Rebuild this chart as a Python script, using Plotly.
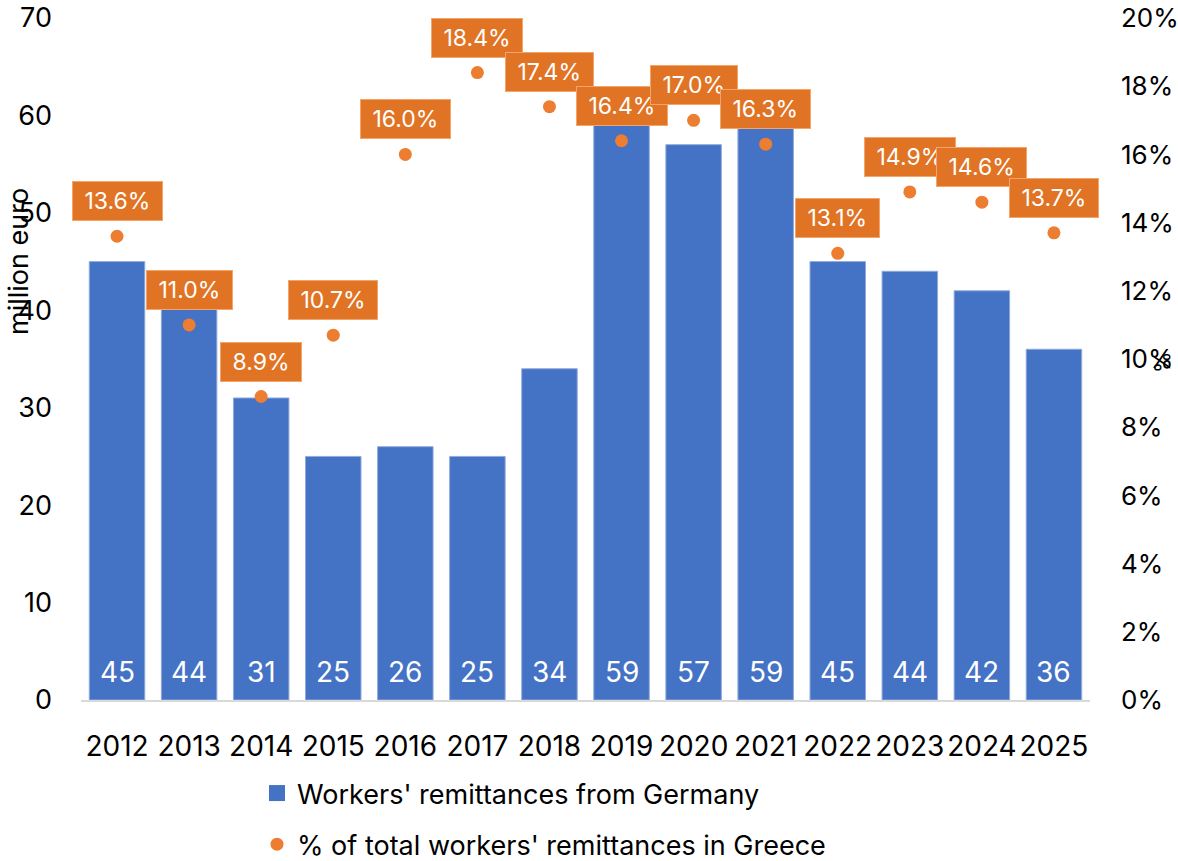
import plotly.graph_objects as go

# Annual data
years = ["2012", "2013", "2014", "2015", "2016", "2017", "2018",
         "2019", "2020", "2021", "2022", "2023", "2024", "2025"]
remittances_germany = [45, 44, 31, 25, 26, 25, 34, 59, 57, 59, 45, 44, 42, 36]  # million euro
share_of_total = [13.6, 11.0, 8.9, 10.7, 16.0, 18.4, 17.4,
                  16.4, 17.0, 16.3, 13.1, 14.9, 14.6, 13.7]  # percent

left_ticks = [0, 10, 20, 30, 40, 50, 60, 70]
right_ticks = [0, 2, 4, 6, 8, 10, 12, 14, 16, 18, 20]

bar_name = "Workers' remittances from Germany"
share_name = "% of total workers' remittances in Greece"

FONT = "Inter"
BLUE = "#4472C4"
ORANGE = "#ED7D31"
BOX = "#E07324"

W, H = 1178, 861
L, R, T, B = 81, 88, 18, 161
pw, ph = W - L - R, H - T - B


def px_x(x):
    return (x - L) / pw


def px_y(y):
    return (H - B - y) / ph


fig = go.Figure()

fig.add_trace(go.Bar(
    x=years, y=remittances_germany,
    name=bar_name,
    marker=dict(color=BLUE, line=dict(color="#8FAADC", width=1)),
    yaxis="y", showlegend=False,
))

share_frac = [v / 100 for v in share_of_total]
fig.add_trace(go.Scatter(
    x=years, y=share_frac,
    name=share_name,
    mode="markers",
    marker=dict(color=ORANGE, size=13),
    yaxis="y2", legendgroup="b", legendrank=2,
))

# legend key for the bars: a larger square swatch
fig.add_trace(go.Scatter(
    x=[None], y=[None], name=bar_name, mode="markers",
    marker=dict(color=BLUE, symbol="square", size=20),
    legendgroup="a", legendrank=1, hoverinfo="skip",
))

annotations = []
# value labels at the foot of each bar (category index positions)
for i, v in enumerate(remittances_germany):
    annotations.append(dict(
        x=i, y=0, xref="x", yref="y", yshift=28,
        text=f"{v:.0f}", showarrow=False,
        font=dict(family=FONT, size=28, color="white"),
    ))
# boxed percentage labels above each marker
for i, v in enumerate(share_frac):
    annotations.append(dict(
        x=i, y=v, xref="x", yref="y2", yshift=35,
        text=f"&nbsp;{v * 100:.1f}%&nbsp;", showarrow=False,
        font=dict(family=FONT, size=23, color="white"),
        bgcolor=BOX, bordercolor="#F3A56C", borderwidth=1, borderpad=5,
    ))
# axis titles
annotations.append(dict(
    x=px_x(18), y=px_y(262), xref="paper", yref="paper", text="million euro",
    xanchor="center", yanchor="middle",
    showarrow=False, textangle=-90,
    font=dict(family=FONT, size=27, color="black"),
))
annotations.append(dict(
    x=px_x(1162), y=px_y(362), xref="paper", yref="paper", text="%",
    xanchor="center", yanchor="middle",
    showarrow=False, textangle=-90,
    font=dict(family=FONT, size=22, color="black"),
))

fig.update_layout(
    width=W, height=H,
    margin=dict(l=L, r=R, t=T, b=B, autoexpand=False),
    paper_bgcolor="white", plot_bgcolor="white",
    font=dict(family=FONT, size=27, color="black"),
    bargap=0.23,
    showlegend=True,
    legend=dict(
        x=px_x(257), xanchor="left",
        y=px_y(769), yanchor="top",
        orientation="v",
        font=dict(family=FONT, size=27, color="black"),
        bgcolor="rgba(0,0,0,0)",
        tracegroupgap=13,
        itemsizing="trace",
    ),
    xaxis=dict(
        type="category", range=[-0.5, len(years) - 0.5],
        showgrid=False, zeroline=False,
        showline=True, linecolor="#D9D9D9", linewidth=2,
        ticks="", ticklabelstandoff=20,
        tickfont=dict(family=FONT, size=28),
    ),
    yaxis=dict(
        range=[0, 70], tickvals=left_ticks,
        showgrid=False, zeroline=False, showline=False,
        ticks="", ticklabelstandoff=28,
        tickfont=dict(family=FONT, size=27),
    ),
    yaxis2=dict(
        range=[0, 0.20], tickvals=[t / 100 for t in right_ticks],
        ticktext=[f"{t}%" for t in right_ticks],
        overlaying="y", side="right",
        showgrid=False, zeroline=False, showline=False,
        ticks="", ticklabelstandoff=30,
        tickfont=dict(family=FONT, size=26),
    ),
    annotations=annotations,
)

fig.write_html("out.html")
